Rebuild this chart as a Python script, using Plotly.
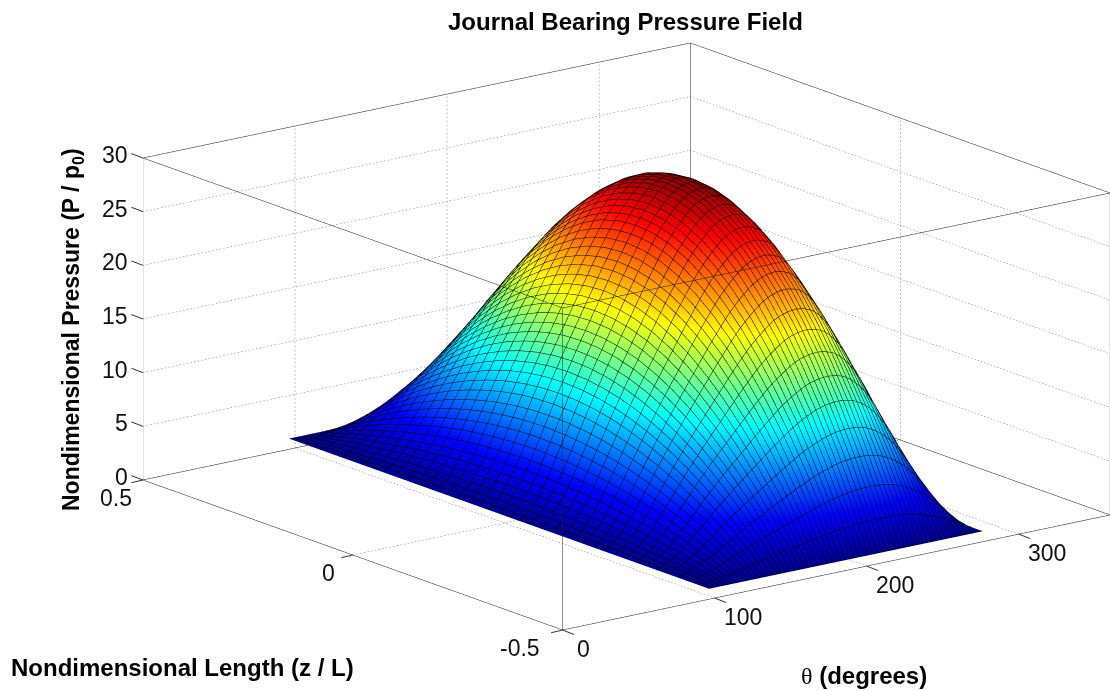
import plotly.graph_objects as go

theta = [96,101,106,111,116,121,126,131,136,141,146,151,156,161,166,171,176,181,186,191,196,201,206,211,216,221,226,231,236,241,246,251,256,261,266,271,276]
z_pos = [-0.5,-0.4583,-0.4167,-0.375,-0.3333,-0.2917,-0.25,-0.2083,-0.1667,-0.125,-0.0833,-0.0417,0,0.0417,0.0833,0.125,0.1667,0.2083,0.25,0.2917,0.3333,0.375,0.4167,0.4583,0.5]
r0 = [1]*37
r1 = [1,1.10,1.24,1.43,1.64,1.89,2.15,2.41,2.66,2.90,3.14,3.36,3.59,3.81,4.03,4.26,4.47,4.67,4.86,5.02,5.17,5.30,5.38,5.42,5.44,5.41,5.34,5.20,4.99,4.72,4.37,3.94,3.43,2.87,2.28,1.64,1]
r2 = [1,1.18,1.46,1.83,2.22,2.71,3.20,3.69,4.18,4.64,5.10,5.52,5.95,6.38,6.81,7.23,7.63,8.03,8.40,8.70,8.98,9.22,9.37,9.47,9.50,9.43,9.31,9.04,8.64,8.12,7.45,6.62,5.65,4.58,3.44,2.22,1]
r3 = [1,1.26,1.66,2.18,2.75,3.45,4.15,4.85,5.55,6.21,6.86,7.48,8.09,8.70,9.31,9.93,10.49,11.06,11.59,12.03,12.42,12.77,12.99,13.12,13.16,13.08,12.90,12.51,11.94,11.19,10.23,9.05,7.65,6.12,4.50,2.75,1]
r4 = [1,1.33,1.83,2.50,3.22,4.11,5.00,5.89,6.78,7.61,8.45,9.22,10.00,10.78,11.56,12.33,13.06,13.78,14.45,15.00,15.50,15.95,16.22,16.39,16.45,16.33,16.11,15.61,14.89,13.95,12.72,11.22,9.45,7.50,5.44,3.22,1]
r5 = [1,1.40,1.99,2.78,3.64,4.69,5.75,6.81,7.86,8.85,9.84,10.76,11.69,12.61,13.53,14.46,15.32,16.17,16.96,17.62,18.22,18.75,19.08,19.27,19.34,19.21,18.94,18.35,17.49,16.37,14.92,13.14,11.03,8.72,6.28,3.64,1]
r6 = [1,1.45,2.13,3.03,4.00,5.20,6.40,7.60,8.80,9.93,11.05,12.10,13.15,14.20,15.25,16.30,17.28,18.25,19.15,19.90,20.58,21.18,21.55,21.78,21.85,21.70,21.40,20.73,19.75,18.48,16.83,14.80,12.40,9.78,7.00,4.00,1]
r7 = [1,1.50,2.24,3.23,4.31,5.63,6.95,8.27,9.59,10.83,12.07,13.23,14.39,15.54,16.70,17.86,18.93,20.01,21.00,21.83,22.57,23.23,23.64,23.89,23.97,23.81,23.48,22.73,21.66,20.26,18.44,16.21,13.56,10.67,7.61,4.31,1]
r8 = [1,1.53,2.33,3.40,4.56,5.98,7.40,8.82,10.24,11.58,12.91,14.16,15.40,16.64,17.89,19.13,20.29,21.44,22.51,23.40,24.20,24.91,25.36,25.62,25.71,25.53,25.18,24.38,23.22,21.71,19.76,17.36,14.51,11.40,8.11,4.56,1]
r9 = [1,1.56,2.41,3.53,4.75,6.25,7.75,9.25,10.75,12.16,13.56,14.88,16.19,17.50,18.81,20.13,21.34,22.56,23.69,24.63,25.47,26.22,26.69,26.97,27.06,26.88,26.50,25.66,24.44,22.84,20.78,18.25,15.25,11.97,8.50,4.75,1]
r10 = [1,1.58,2.46,3.62,4.89,6.44,8.00,9.56,11.11,12.57,14.03,15.39,16.75,18.11,19.47,20.83,22.10,23.36,24.53,25.50,26.37,27.15,27.64,27.93,28.03,27.83,27.44,26.57,25.31,23.65,21.51,18.89,15.78,12.37,8.78,4.89,1]
r11 = [1,1.60,2.49,3.68,4.97,6.56,8.15,9.74,11.33,12.82,14.31,15.70,17.09,18.48,19.87,21.26,22.55,23.84,25.03,26.03,26.92,27.71,28.21,28.51,28.61,28.41,28.01,27.12,25.83,24.14,21.95,19.27,16.10,12.62,8.94,4.97,1]
r12 = [1,1.6,2.5,3.7,5,6.6,8.2,9.8,11.4,12.9,14.4,15.8,17.2,18.6,20,21.4,22.7,24,25.2,26.2,27.1,27.9,28.4,28.7,28.8,28.6,28.2,27.3,26,24.3,22.1,19.4,16.2,12.7,9,5,1]
P = [r0,r1,r2,r3,r4,r5,r6,r7,r8,r9,r10,r11,r12,r11,r10,r9,r8,r7,r6,r5,r4,r3,r2,r1,r0]
theta_ticks=[0,100,200,300]
z_ticks=[-0.5,0,0.5]
p_ticks=[0,5,10,15,20,25,30]
jet = [[0,'#000090'],[0.125,'#0000ff'],[0.375,'#00ffff'],[0.625,'#ffff00'],[0.875,'#ff0000'],[1,'#800000']]

fig = go.Figure(go.Surface(x=theta,y=z_pos,z=P,colorscale=jet,cmin=1,cmax=29.2,showscale=False,hoverinfo='skip',
    lighting=dict(ambient=1,diffuse=0,specular=0,roughness=1,fresnel=0),
    contours=dict(x=dict(show=True,start=96,end=276,size=3,color='#000',width=1,highlight=False),
                  y=dict(show=True,start=-0.5,end=0.5,size=0.025,color='#000',width=1,highlight=False),
                  z=dict(highlight=False))))
X0,X1=0,360; Y0,Y1=-0.5,0.5; Z0,Z1=0,30
ex,ey,ez=[],[],[]
def seg(a,b):
    ex.extend([a[0],b[0],None]); ey.extend([a[1],b[1],None]); ez.extend([a[2],b[2],None])
for y in (Y0,Y1):
    for z in (Z0,Z1): seg((X0,y,z),(X1,y,z))
for x in (X0,X1):
    for z in (Z0,Z1): seg((x,Y0,z),(x,Y1,z))
    for y in (Y0,Y1): seg((x,y,Z0),(x,y,Z1))
fig.add_trace(go.Scatter3d(x=ex,y=ey,z=ez,mode='lines',line=dict(color='#202020',width=1),hoverinfo='skip',showlegend=False))
# dotted grid, broken into short strokes
gx,gy,gz=[],[],[]
def gseg(a,b,n=130,duty=0.4):
    for i in range(n):
        f0=i/n; f1=(i+duty)/n
        for q,f in ((gx,0),(gy,1),(gz,2)):
            q.extend([a[f]+(b[f]-a[f])*f0,a[f]+(b[f]-a[f])*f1,None])
for t in theta_ticks:
    if t>0:
        gseg((t,Y0,Z0),(t,Y1,Z0)); gseg((t,Y1,Z0),(t,Y1,Z1),80)
for t in z_ticks:
    if t<0.5 and t>-0.5:
        gseg((X0,t,Z0),(X1,t,Z0),150); gseg((X1,t,Z0),(X1,t,Z1),80)
for t in p_ticks:
    if 0<t<30:
        gseg((X0,Y1,t),(X1,Y1,t),150); gseg((X1,Y1,t),(X1,Y0,t))
fig.add_trace(go.Scatter3d(x=gx,y=gy,z=gz,mode='lines',line=dict(color='#707070',width=1),hoverinfo='skip',showlegend=False))
ax = dict(showbackground=False,showgrid=False,showline=False,ticks='',title=dict(text=''),zeroline=False,
          showticklabels=False,showspikes=False)
tf=dict(family='Liberation Sans',size=23,color='#111')
ann=[]
def tick(x,y,z,dx,dy):
    ann.append(dict(x=x,y=y,z=z,text=' ',showarrow=True,arrowhead=0,arrowwidth=1,arrowcolor='#303030',ax=dx,ay=dy,font=dict(size=1)))
for t in p_ticks:
    ann.append(dict(x=0,y=0.5,z=t,text=str(t),showarrow=False,xanchor='right',yanchor='middle',xshift=-13,yshift=3,font=tf))
    tick(0,0.5,t,-13,-5)
for t in z_ticks:
    ann.append(dict(x=0,y=t,z=0,text=str(t),showarrow=False,xanchor='center',yanchor='middle',
                    xshift=-27 if t>0 else (-43 if t<0 else -24),yshift=-18,font=tf))
    tick(0,t,0,-13,3)
for t in theta_ticks:
    ann.append(dict(x=t,y=-0.5,z=0,text=str(t),showarrow=False,xanchor='center',yanchor='middle',
                    xshift=21 if t==0 else 28,yshift=-19,font=tf))
    tick(t,-0.5,0,13,5)
fig.update_layout(width=1110,height=691,margin=dict(l=0,r=0,t=0,b=0),paper_bgcolor='white',showlegend=False,
    scene=dict(domain=dict(x=[0.1288,1],y=[0.026,1]),
        xaxis=dict(ax,range=[0,360],tickvals=theta_ticks),
        yaxis=dict(ax,range=[-0.5,0.5],tickvals=z_ticks),
        zaxis=dict(ax,range=[0,30],tickvals=p_ticks),
        aspectmode='manual',aspectratio=dict(x=2.05,y=2.05,z=0.995),
        annotations=ann,
        camera=dict(projection=dict(type='orthographic'),up=dict(x=0,y=0,z=1),center=dict(x=0,y=0,z=0),
                    eye=dict(x=-1.17,y=-1.526,z=0.548))))
W,H=1110,691
def note(t,x,y,size=24,angle=0):
    fig.add_annotation(text=t,x=x/W,y=1-y/H,xref='paper',yref='paper',showarrow=False,textangle=angle,xanchor='center',yanchor='middle',
        font=dict(family='Liberation Sans',size=size,color='black'))
note('<b>Journal Bearing Pressure Field</b>',625,21)
note('<b>Nondimensional Pressure (P / p<sub>0</sub>)</b>',72,330,23,-90)
note('<b>Nondimensional Length (z / L)</b>',182,667)
note('<span style="font-family:Liberation Serif">θ</span><b> (degrees)</b>',864,675)
fig.write_html('out.html',post_script="document.body.style.margin='0';",config=dict(displayModeBar=False))
